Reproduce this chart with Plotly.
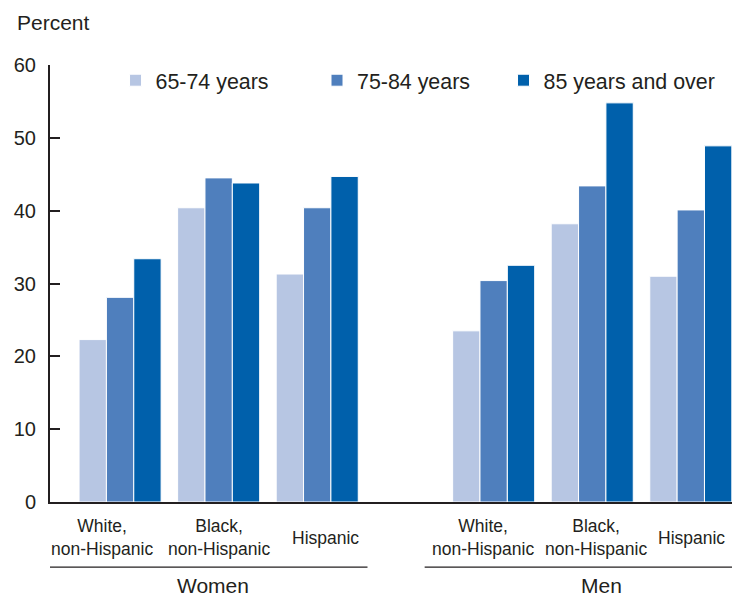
import plotly.graph_objects as go

# ---- data ----
sexes = ["Women", "Men"]
groups = ["White,<br>non-Hispanic", "Black,<br>non-Hispanic", "Hispanic"]
series_names = ["65-74 years", "75-84 years", "85 years and over"]
women_65_74 = [22.3, 40.4, 31.3]
women_75_84 = [28.1, 44.5, 40.4]
women_85 = [33.4, 43.8, 44.7]
men_65_74 = [23.5, 38.2, 31.0]
men_75_84 = [30.4, 43.4, 40.1]
men_85 = [32.5, 54.8, 48.9]
y_ticks = [0, 10, 20, 30, 40, 50, 60]

# ---- layout helpers ----
FONT = "Liberation Sans, Arial, sans-serif"
TXT = "#231f20"
colors = ["#b7c6e3", "#4f7fbd", "#0060ab"]
men_offset = 3.79
xpos = [0, 1, 2] + [men_offset + i for i in range(3)]
label_shift = [-18.5, 0, 8.5, -11, 3.5, 0.5]  # px nudges to keep labels apart

series_vals = [women_65_74 + men_65_74,
               women_75_84 + men_75_84,
               women_85 + men_85]

fig = go.Figure()
legends = ["legend", "legend2", "legend3"]
for name, vals, col, lg in zip(series_names, series_vals, colors, legends):
    fig.add_trace(go.Bar(
        x=xpos, y=vals, name=name, legend=lg, showlegend=True,
        marker=dict(color=col, line=dict(color="white", width=1)),
        hoverinfo="y+name",
    ))

leg_common = dict(orientation="h", yanchor="middle", y=0.965, xanchor="left",
                  bgcolor="rgba(0,0,0,0)", font=dict(family=FONT, size=21.4, color=TXT),
                  itemclick=False, itemdoubleclick=False, visible=True)
fig.update_layout(
    showlegend=True,
    legend=dict(x=0.0961, **leg_common),
    legend2=dict(x=0.3915, **leg_common),
    legend3=dict(x=0.665, **leg_common),
)

annotations = []
# category labels
for i, xp in enumerate(xpos):
    annotations.append(dict(
        x=xp, y=-0.082, xref="x", yref="paper", text=groups[i % 3],
        showarrow=False, xanchor="center", yanchor="middle", xshift=label_shift[i],
        font=dict(family=FONT, size=17.5, color=TXT)))
# sex labels
annotations.append(dict(x=0.94, y=-0.19, xref="x", yref="paper", text=sexes[0],
                        showarrow=False, xanchor="center", yanchor="middle",
                        font=dict(family=FONT, size=21, color=TXT)))
annotations.append(dict(x=men_offset + 1.09, y=-0.19, xref="x", yref="paper", text=sexes[1],
                        showarrow=False, xanchor="center", yanchor="middle",
                        font=dict(family=FONT, size=21, color=TXT)))
# y axis title
annotations.append(dict(x=-0.051, y=1.098, xref="paper", yref="paper", text="Percent",
                        showarrow=False, xanchor="left", yanchor="middle",
                        font=dict(family=FONT, size=21, color=TXT)))

shapes = [
    dict(type="line", xref="x", yref="paper", x0=-0.78, x1=2.51, y0=-0.149, y1=-0.149,
         line=dict(color=TXT, width=1.2)),
    dict(type="line", xref="x", yref="paper", x0=men_offset - 0.70, x1=men_offset + 2.42,
         y0=-0.149, y1=-0.149, line=dict(color=TXT, width=1.2)),
]

fig.update_layout(
    width=732, height=597,
    margin=dict(l=50, r=0, t=65, b=95),
    paper_bgcolor="white", plot_bgcolor="white",
    barmode="group", bargap=0.1675, bargroupgap=0,
    font=dict(family=FONT, color=TXT),
    annotations=annotations, shapes=shapes,
    xaxis=dict(range=[-0.711, men_offset + 2.418], showticklabels=False, ticks="",
               showgrid=False, zeroline=False, showline=True, linecolor=TXT, linewidth=2,
               fixedrange=True),
    yaxis=dict(range=[0, 60], tickvals=y_ticks, ticks="inside", ticklen=10, tickwidth=2,
               tickcolor=TXT, showgrid=False, zeroline=False, showline=True,
               linecolor=TXT, linewidth=2, ticklabelstandoff=8,
               tickfont=dict(family=FONT, size=20, color=TXT), fixedrange=True),
)

fig.write_html("out.html", config={"displayModeBar": False},
               post_script="document.body.style.margin='0';document.body.style.overflow='hidden';")
